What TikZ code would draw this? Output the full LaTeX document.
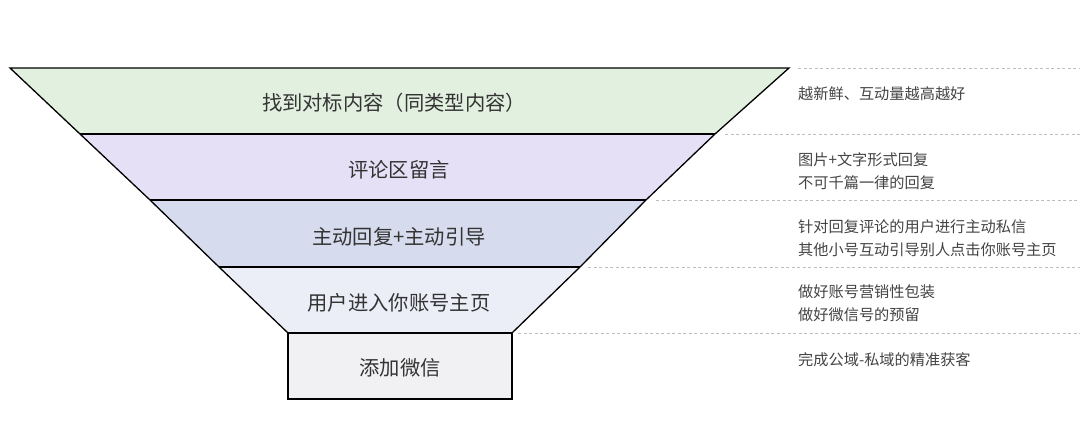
\documentclass[tikz,border=0pt]{standalone}
\usepackage{fontspec}
\setmainfont{Noto Sans CJK SC}
\usetikzlibrary{positioning}
\usepackage{xcolor}
\definecolor{funnelGreen}{HTML}{E2F0DF}
\definecolor{funnelLilac}{HTML}{E6E0F6}
\definecolor{funnelSteel}{HTML}{D6DBED}
\definecolor{funnelMist}{HTML}{ECEEF7}
\definecolor{funnelGray}{HTML}{F1F1F3}
\definecolor{funnelInk}{HTML}{333333}
\definecolor{noteInk}{HTML}{444444}
\definecolor{noteLine}{HTML}{BDBDBD}

\begin{document}
\begin{tikzpicture}[x=1pt,y=-1pt]
  \tikzstyle{bandtext}=[font=\fontsize{20.3}{24}\selectfont,text=funnelInk]
  \tikzstyle{notetext}=[anchor=west,align=left,inner sep=0pt,font=\fontsize{15.2}{22.5}\selectfont,text=noteInk]
  \tikzstyle{bandline}=[draw=black,line width=2.6pt]
  \tikzstyle{sideline}=[draw=black,line width=1.3pt]
  \tikzstyle{noteline}=[draw=noteLine,line width=0.8pt,dash pattern=on 3pt off 2.5pt]
  \useasboundingbox[fill=white] (0,0) rectangle (1080,423);
  % funnel bands
  \foreach \ya/\yb/\la/\lb/\ra/\rb/\col in {68/134/10/80/789/715/funnelGreen,134/200/80/150/715/646/funnelLilac,200/267/150/219/646/580/funnelSteel,267/333/219/288/580/512/funnelMist}
    \fill[\col] (\la,\ya) -- (\ra,\ya) -- (\rb,\yb) -- (\lb,\yb) -- cycle;
  \fill[funnelGray] (288,333) rectangle (512,399);
  % outline
  \draw[sideline] (80,134) -- (10,68) -- (789,68) -- (715,134);
  \draw[sideline] (80,134) -- (150,200) (715,134) -- (646,200);
  \draw[sideline] (150,200) -- (219,267) (646,200) -- (580,267);
  \draw[sideline] (219,267) -- (288,333) (580,267) -- (512,333);
  \draw[sideline,line width=1.6pt] (288,333) -- (288,399) -- (512,399) -- (512,333);
  \foreach \y/\l/\r in {134/80/715,200/150/646,267/219/580,333/288/512}
    \draw[bandline] (\l,\y) -- (\r,\y);
  % band labels
  \node[bandtext] (find) at (394,103) {找到对标内容（同类型内容）};
  \node[bandtext] (comment) at (399,170) {评论区留言};
  \node[bandtext] (reply) at (399,237) {主动回复+主动引导};
  \node[bandtext] (visit) at (399,303) {用户进入你账号主页};
  \node[bandtext] (wechat) at (400,368) {添加微信};
  % side notes
  \node[notetext] (freshNote) at (798,94) {越新鲜、互动量越高越好};
  \node[notetext] (replyNote) at (798,171) {图片+文字形式回复\\不可千篇一律的回复};
  \node[notetext] (guideNote) at (798,238) {针对回复评论的用户进行主动私信\\其他小号互动引导别人点击你账号主页};
  \node[notetext] (packNote) at (798,303) {做好账号营销性包装\\做好微信号的预留};
  \node[notetext] (doneNote) at (798,360) {完成公域-私域的精准获客};
  % separators
  \foreach \y/\x in {68/798,134/725,200/656,267/588,333/518}
    \draw[noteline] (\x,\y) -- (1080,\y);
\end{tikzpicture}
\end{document}
